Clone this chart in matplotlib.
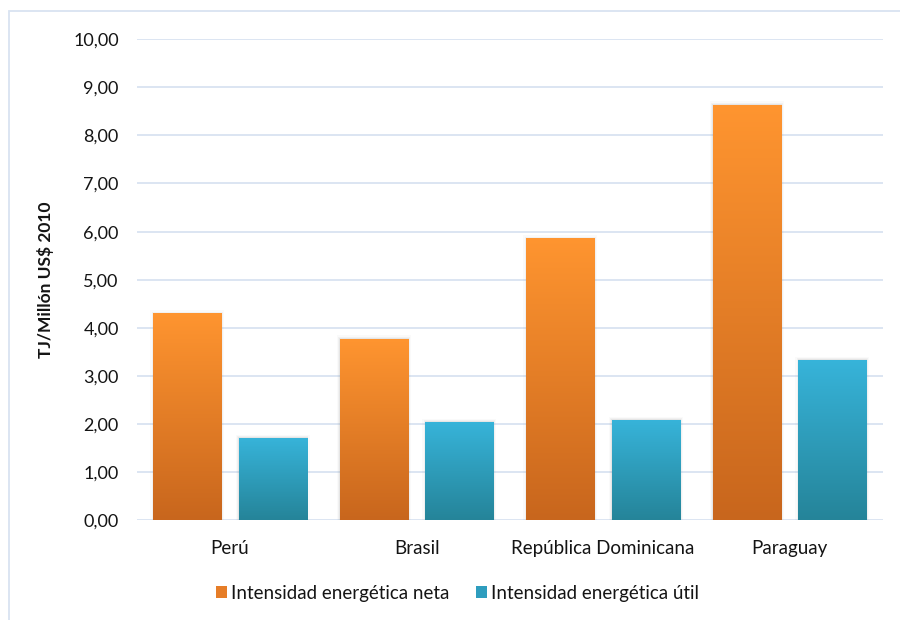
import numpy as np
import matplotlib
matplotlib.use("Agg")
import matplotlib.pyplot as plt
from matplotlib.colors import LinearSegmentedColormap
from matplotlib.patches import Patch, Rectangle

# Intensidad energética por país (TJ / millón US$ 2010)
paises = ["Perú", "Brasil", "República Dominicana", "Paraguay"]
neta = [4.30, 3.78, 5.86, 8.64]
util = [1.72, 2.05, 2.09, 3.33]
series_names = ["Intensidad energética neta", "Intensidad energética útil"]
ticks = np.arange(0, 11, 1)

plt.rcParams['font.family'] = ['Lato', 'DejaVu Sans']

# top / bottom colours of each bar gradient
orange_top, orange_bot = "#FF9530", "#C8661D"
teal_top, teal_bot = "#37B4DA", "#258499"
grid_color = "#D9E3F1"
text_color = "#141414"


def gradient_fill(ax, bars, top, bottom):
    """Replace the flat face of every bar with a vertical gradient."""
    cmap = LinearSegmentedColormap.from_list("g", [bottom, top])
    grad = np.linspace(0, 1, 256).reshape(-1, 1)
    for b in bars:
        x0, w, h = b.get_x(), b.get_width(), b.get_height()
        # soft shadow around the bar
        for pad, a in [(0.016, 0.04), (0.009, 0.07), (0.004, 0.10)]:
            ax.add_patch(Rectangle((x0 - pad, 0), w + 2 * pad, h + pad * 4,
                                   facecolor="#808080", edgecolor="none",
                                   alpha=a, zorder=2))
        im = ax.imshow(grad, extent=[x0, x0 + w, 0, h], origin="lower",
                       cmap=cmap, aspect="auto", zorder=3,
                       interpolation="bicubic")
        im.set_clip_path(b)
        b.set_facecolor("none")


fig = plt.figure(figsize=(9, 6.2), dpi=100)
ax = fig.add_axes([0.152, 0.1605, 0.829, 0.7765])

x = np.arange(len(paises))
w = 0.365
off = 0.229
b1 = ax.bar(x - off, neta, w, linewidth=0, zorder=3)
b2 = ax.bar(x + off, util, w, linewidth=0, zorder=3)
gradient_fill(ax, b1, orange_top, orange_bot)
gradient_fill(ax, b2, teal_top, teal_bot)

ax.set_xlim(-0.5, len(paises) - 0.5)
ax.set_ylim(0, 10)
ax.set_yticks(ticks)
ax.set_yticklabels([f"{t:.2f}".replace(".", ",") for t in ticks], fontsize=13,
                   color=text_color)
ax.set_xticks(x)
ax.set_xticklabels(paises, fontsize=13.5, color=text_color)
ax.tick_params(axis="both", length=0)
ax.tick_params(axis="y", pad=13)
ax.tick_params(axis="x", pad=14)

ax.yaxis.grid(True, color=grid_color, linewidth=1.3, zorder=0)
ax.set_axisbelow(True)
for s in ax.spines.values():
    s.set_visible(False)

ax.set_ylabel("TJ/Millón US$ 2010", fontsize=12.5, fontweight="bold",
              labelpad=14, color=text_color)

handles = [Patch(facecolor="#E67D27", label=series_names[0]),
           Patch(facecolor="#2E9DBE", label=series_names[1])]
fig.legend(handles=handles, loc="center", bbox_to_anchor=(0.508, 0.0435),
           ncol=2, frameon=False, fontsize=13.5, handlelength=0.6,
           handleheight=0.6, handletextpad=0.2, columnspacing=1.4,
           labelcolor=text_color)

# light frame around the chart area
fig.patches.append(Rectangle((9 / 900, -0.1), 1.2, 1 - 11 / 620 + 0.1,
                             transform=fig.transFigure, fill=False,
                             edgecolor=grid_color, linewidth=1.3))

fig.savefig("out.png", dpi=100)
plt.close(fig)
